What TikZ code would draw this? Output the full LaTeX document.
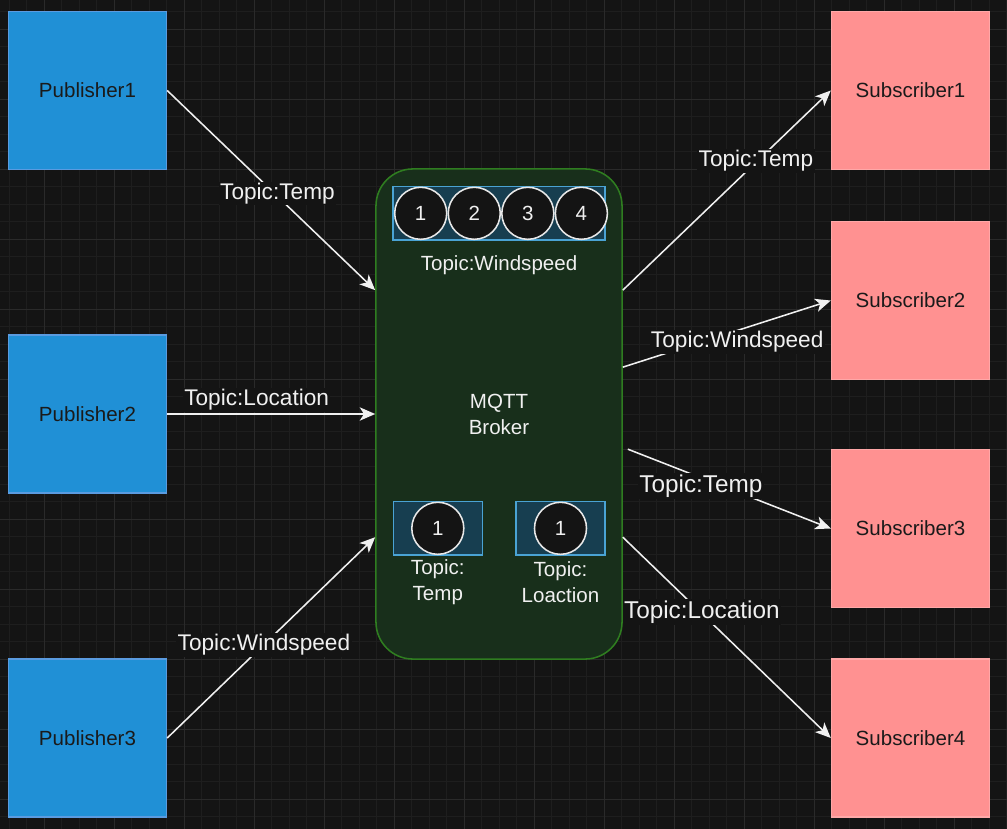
\documentclass[tikz,border=0pt]{standalone}
\usepackage{fontspec}
\setmainfont{Liberation Sans}
\usepackage{xcolor}
\usetikzlibrary{arrows.meta,positioning}
\definecolor{bg}{HTML}{141414}
\definecolor{gridminor}{HTML}{1E1E1E}
\definecolor{gridmajor}{HTML}{2A2A2A}
\definecolor{pubfill}{HTML}{2090D6}
\definecolor{publine}{HTML}{5A9BE0}
\definecolor{subfill}{HTML}{FF9191}
\definecolor{subline}{HTML}{FFA8A8}
\definecolor{brokerfill}{HTML}{182F1B}
\definecolor{brokerline}{HTML}{2F7D20}
\definecolor{queuefill}{HTML}{173E50}
\definecolor{queueline}{HTML}{4AA3D4}
\definecolor{msgline}{HTML}{E8E8E8}
\definecolor{lighttext}{HTML}{F0F0F0}
\definecolor{darktext}{HTML}{1A1A1A}
\tikzset{
	pub/.style = {shape=rectangle, draw=publine, fill=pubfill, line width=1pt, minimum size=3.95cm, text=darktext, font=\fontsize{14.6}{18.5}\selectfont},
	sub/.style = {shape=rectangle, draw=subline, fill=subfill, line width=1pt, minimum size=3.95cm, text=darktext, font=\fontsize{14.6}{18.5}\selectfont},
	queue/.style = {shape=rectangle, draw=queueline, fill=queuefill, line width=1pt, minimum height=1.33cm, inner sep=0pt},
	msg/.style = {shape=circle, draw=msgline, fill=bg, line width=1.1pt, minimum size=1.3cm, inner sep=0pt, text=lighttext, font=\fontsize{14.6}{18.5}\selectfont}
}

\begin{document}
\begin{tikzpicture}[
    x=0.025cm,
    y=-0.025cm,
    node distance=0pt,
    broker_style/.style={
        shape=rectangle,
        rounded corners=0.925cm,
        draw=brokerline,
        fill=brokerfill,
        line width=1.1pt,
        minimum width=6.15cm,
        minimum height=12.25cm,
        align=center,
        text=lighttext,
        font=\fontsize{14.6}{18.5}\selectfont
        },
    text_style/.style={
        align=center,
        text=lighttext,
        font=\fontsize{14.6}{18.5}\selectfont
        },
    link_style/.style={
        draw=lighttext,
        line width=1.1pt,
        -{Stealth[length=11pt,width=9.5pt,inset=3pt]}
        },
    label_style/.style={
        fill=bg,
        text=lighttext,
        inner sep=1pt,
        font=\fontsize{16.1}{19}\selectfont
        },
    biglabel_style/.style={
        label_style,
        font=\fontsize{17.3}{20}\selectfont
        }]

    \useasboundingbox (0,0) rectangle (1007,829);
    \fill[bg] (0,0) rectangle (1007,829);
    \foreach \i in {0,...,57}
        \draw[gridminor, line width=0.7pt] ({9.3+17.5*\i},0) -- ({9.3+17.5*\i},829);
    \foreach \i in {0,...,46}
        \draw[gridminor, line width=0.7pt] (0,{11.8+17.5*\i}) -- (1007,{11.8+17.5*\i});
    \foreach \i in {0,...,13}
        \draw[gridmajor, line width=0.9pt] ({44.3+70*\i},0) -- ({44.3+70*\i},829);
    \foreach \i in {0,...,11}
        \draw[gridmajor, line width=0.9pt] (0,{29.3+70*\i}) -- (1007,{29.3+70*\i});

    \node[pub] (pub1) at (87.5,90.5) {Publisher1};
    \node[pub] (pub2) at (87.5,414) {Publisher2};
    \node[pub] (pub3) at (87.5,738) {Publisher3};

    \node[sub] (sub1) at (910.5,90.5) {Subscriber1};
    \node[sub] (sub2) at (910.5,300.5) {Subscriber2};
    \node[sub] (sub3) at (910.5,528.5) {Subscriber3};
    \node[sub] (sub4) at (910.5,738) {Subscriber4};

    \node[broker_style] (broker) at (499,414) {MQTT\\Broker};

    \node[queue, minimum width=5.3cm] (wind) at (499,213.3) {};
    \node[msg] (w1) at (420.7,213.3) {1};
    \node[msg, right=of w1] (w2) {2};
    \node[msg, right=of w2] (w3) {3};
    \node[msg, right=of w3] (w4) {4};
    \node[text_style] (windtext) at (499,265) {Topic:Windspeed};

    \node[queue, minimum width=2.225cm] (temp) at (437.8,528.3) {};
    \node[msg] (t1) at (437.8,528.3) {1};
    \node[text_style] (temptext) at (437.8,582) {Topic:\\Temp};

    \node[queue, minimum width=2.225cm] (loc) at (560.5,528.3) {};
    \node[msg] (l1) at (560.5,528.3) {1};
    \node[text_style] (loctext) at (560.5,582) {Topic:\\Loaction};

    \coordinate (in1) at ([shift={(0,122)}]broker.north west);
    \coordinate (in2) at (broker.west);
    \coordinate (in3) at ([shift={(0,369)}]broker.north west);
    \coordinate (out1) at ([shift={(0,122)}]broker.north east);
    \coordinate (out2) at ([shift={(0,199)}]broker.north east);
    \coordinate (out3) at ([shift={(5,281)}]broker.north east);
    \coordinate (out4) at ([shift={(0,369)}]broker.north east);

    \draw[link_style] (pub1.east) -- node[label_style, pos=0.53, yshift=2pt] {Topic:Temp} (in1);
    \draw[link_style] (pub2.east) -- node[label_style, pos=0.43, above=1pt] {Topic:Location} (in2);
    \draw[link_style] (pub3.east) -- node[label_style, pos=0.465] {Topic:Windspeed} (in3);

    \draw[link_style] (out1) -- node[label_style, pos=0.64, yshift=1pt] {Topic:Temp} (sub1.west);
    \draw[link_style] (out2) -- node[label_style, pos=0.55, yshift=-8pt] {Topic:Windspeed} (sub2.west);
    \draw[link_style] (out3) -- node[biglabel_style, pos=0.36, yshift=-6pt] {Topic:Temp} (sub3.west);
    \draw[link_style] (out4) -- node[biglabel_style, pos=0.38, yshift=1pt] {Topic:Location} (sub4.west);
\end{tikzpicture}
\end{document}
